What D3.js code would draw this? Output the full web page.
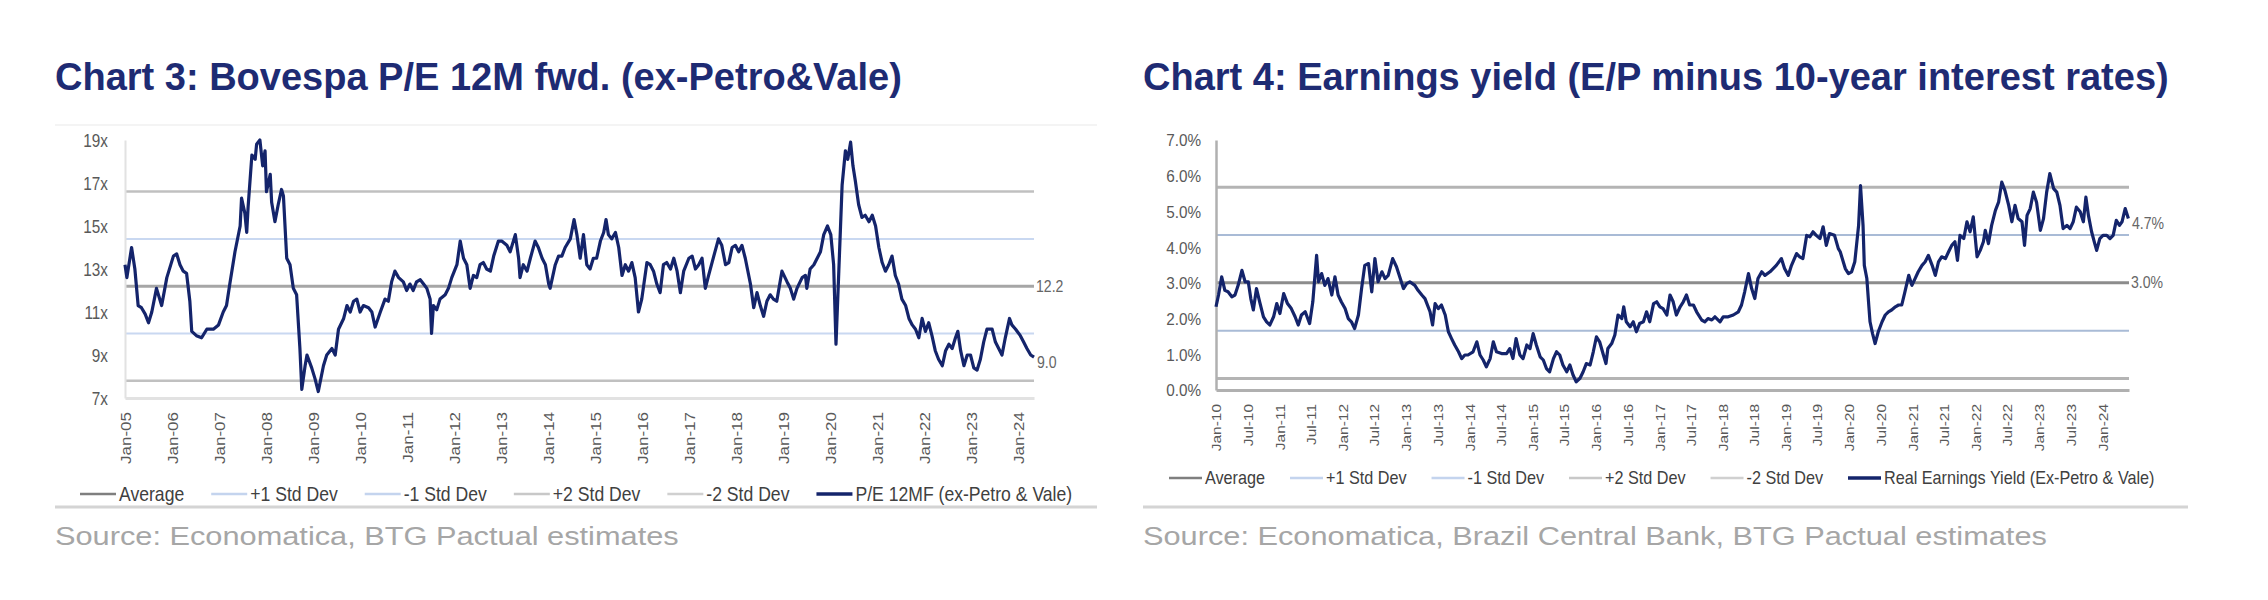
<!DOCTYPE html>
<html>
<head>
<meta charset="utf-8">
<script src="https://cdn.jsdelivr.net/npm/d3@7"></script>
<style>
  html, body { margin: 0; padding: 0; background: #fff; }
  svg { display: block; font-family: "Liberation Sans", Arial, sans-serif; }
</style>
</head>
<body>
<svg id="page" width="2268" height="600"></svg>
<script>
// ---------- data ----------
// Chart 3: Bovespa P/E 12M fwd (decimal year, multiple)
const peSeries = [
  [2005.00,13.2],[2005.04,12.6],[2005.14,14.0],[2005.21,13.0],[2005.28,11.3],[2005.35,11.2],[2005.43,10.9],[2005.50,10.5],[2005.57,11.0],[2005.67,12.1],
  [2005.78,11.3],[2005.89,12.6],[2006.03,13.6],[2006.10,13.7],[2006.17,13.2],[2006.24,12.9],[2006.31,12.8],[2006.38,11.5],[2006.42,10.1],[2006.52,9.9],
  [2006.63,9.8],[2006.74,10.2],[2006.88,10.2],[2006.99,10.4],[2007.09,11.0],[2007.16,11.3],[2007.23,12.3],[2007.34,13.8],[2007.45,15.0],[2007.48,16.3],
  [2007.55,15.6],[2007.59,14.7],[2007.62,15.9],[2007.70,18.3],[2007.77,18.1],[2007.80,18.8],[2007.87,19.0],[2007.93,17.8],[2007.98,18.5],[2008.01,16.6],
  [2008.09,17.4],[2008.12,16.1],[2008.19,15.2],[2008.26,16.0],[2008.33,16.7],[2008.37,16.4],[2008.44,13.5],[2008.51,13.2],[2008.58,12.1],[2008.65,11.8],
  [2008.72,9.3],[2008.76,7.4],[2008.83,8.5],[2008.87,9.0],[2008.97,8.4],[2009.04,7.9],[2009.11,7.3],[2009.22,8.5],[2009.29,9.0],[2009.40,9.3],
  [2009.47,9.0],[2009.54,10.2],[2009.65,10.7],[2009.72,11.3],[2009.79,11.0],[2009.86,11.5],[2009.93,11.6],[2010.00,11.0],[2010.07,11.3],[2010.18,11.2],
  [2010.25,11.0],[2010.32,10.3],[2010.43,11.0],[2010.53,11.6],[2010.60,11.5],[2010.67,12.4],[2010.74,12.9],[2010.82,12.6],[2010.92,12.4],[2010.99,12.0],
  [2011.06,12.3],[2011.13,12.0],[2011.20,12.4],[2011.28,12.5],[2011.35,12.3],[2011.42,12.1],[2011.49,11.6],[2011.52,10.0],[2011.56,11.3],[2011.63,11.1],
  [2011.70,11.6],[2011.81,11.8],[2011.88,12.1],[2011.95,12.6],[2012.06,13.2],[2012.13,14.3],[2012.20,13.5],[2012.27,13.2],[2012.34,12.1],[2012.41,12.7],
  [2012.48,12.6],[2012.55,13.2],[2012.62,13.3],[2012.69,13.0],[2012.77,12.9],[2012.84,13.6],[2012.94,14.3],[2013.01,14.3],[2013.12,14.1],[2013.19,13.8],
  [2013.30,14.6],[2013.37,13.5],[2013.40,12.6],[2013.47,13.2],[2013.55,12.9],[2013.62,13.5],[2013.72,14.3],[2013.79,14.0],[2013.87,13.5],[2013.94,13.2],
  [2014.01,12.3],[2014.04,12.1],[2014.15,13.2],[2014.22,13.6],[2014.29,13.6],[2014.36,14.0],[2014.47,14.4],[2014.55,15.3],[2014.61,14.6],[2014.68,13.5],
  [2014.75,14.6],[2014.82,13.2],[2014.89,13.0],[2014.96,13.5],[2015.03,13.5],[2015.11,14.3],[2015.18,14.7],[2015.23,15.3],[2015.28,14.6],[2015.35,14.4],
  [2015.43,14.7],[2015.50,14.0],[2015.57,12.7],[2015.64,13.2],[2015.71,12.9],[2015.78,13.3],[2015.85,12.6],[2015.92,11.0],[2015.99,11.6],[2016.10,13.3],
  [2016.17,13.2],[2016.24,12.9],[2016.31,12.3],[2016.38,11.9],[2016.45,13.2],[2016.52,13.3],[2016.60,13.0],[2016.67,13.5],[2016.74,12.9],[2016.81,11.9],
  [2016.88,12.9],[2016.99,13.5],[2017.06,13.6],[2017.13,13.0],[2017.20,13.2],[2017.27,13.5],[2017.34,12.1],[2017.41,12.7],[2017.52,13.6],[2017.62,14.4],
  [2017.69,14.1],[2017.77,13.2],[2017.84,13.3],[2017.91,14.0],[2017.98,14.1],[2018.05,13.8],[2018.12,14.1],[2018.19,13.5],[2018.30,12.3],[2018.37,11.2],
  [2018.44,11.9],[2018.51,11.3],[2018.58,10.8],[2018.65,11.5],[2018.72,11.8],[2018.79,11.6],[2018.86,11.5],[2018.97,12.9],[2019.08,12.4],[2019.15,12.1],
  [2019.22,11.6],[2019.29,12.1],[2019.40,12.6],[2019.47,12.7],[2019.50,12.1],[2019.57,13.0],[2019.65,13.2],[2019.72,13.5],[2019.79,13.8],[2019.86,14.6],
  [2019.94,15.0],[2020.01,14.6],[2020.07,13.2],[2020.12,9.5],[2020.18,12.9],[2020.25,16.9],[2020.32,18.5],[2020.37,18.1],[2020.43,18.9],[2020.48,17.8],
  [2020.53,17.1],[2020.60,16.0],[2020.67,15.4],[2020.74,15.5],[2020.82,15.2],[2020.89,15.5],[2020.96,15.0],[2021.03,14.0],[2021.10,13.3],[2021.17,12.9],
  [2021.24,13.2],[2021.31,13.6],[2021.38,12.7],[2021.45,12.3],[2021.52,11.6],[2021.60,11.3],[2021.67,10.7],[2021.74,10.4],[2021.81,10.2],[2021.88,9.8],
  [2021.95,10.7],[2022.02,10.1],[2022.09,10.5],[2022.16,9.9],[2022.23,9.2],[2022.30,8.8],[2022.38,8.5],[2022.45,9.2],[2022.52,9.5],[2022.59,9.3],
  [2022.66,9.8],[2022.71,10.1],[2022.77,9.2],[2022.84,8.5],[2022.91,9.0],[2022.98,9.0],[2023.05,8.4],[2023.12,8.3],[2023.19,8.8],[2023.26,9.6],
  [2023.33,10.2],[2023.44,10.2],[2023.51,9.6],[2023.58,9.3],[2023.65,9.0],[2023.72,9.8],[2023.81,10.7],[2023.86,10.4],[2023.94,10.2],[2024.04,9.9],
  [2024.11,9.6],[2024.18,9.3],[2024.26,9.0],[2024.33,8.9]
];
const peAverage = 12.2;
const peBands = [16.6, 14.4, 10.0, 7.8];       // +2, +1, -1, -2 std dev
const peLatest = 9.0;
const peTicks = [7, 9, 11, 13, 15, 17, 19];
const peSpan = [2005.0, 2024.33];

// Chart 4: real earnings yield (decimal year, %)
const eySeries = [
  [2010.00,2.33],[2010.04,2.66],[2010.09,3.17],[2010.14,2.79],[2010.19,2.75],[2010.25,2.61],[2010.30,2.66],[2010.35,2.93],[2010.41,3.35],[2010.46,3.03],
  [2010.51,3.03],[2010.55,2.56],[2010.59,2.24],[2010.64,2.84],[2010.69,2.47],[2010.75,2.05],[2010.80,1.91],[2010.85,1.82],[2010.91,2.05],[2010.96,2.42],
  [2011.01,2.14],[2011.07,2.70],[2011.13,2.42],[2011.19,2.28],[2011.25,2.05],[2011.30,1.82],[2011.35,2.10],[2011.41,2.19],[2011.48,1.86],[2011.53,2.47],
  [2011.59,3.77],[2011.62,3.03],[2011.67,3.26],[2011.72,2.93],[2011.77,3.12],[2011.83,2.66],[2011.88,3.17],[2011.93,2.66],[2011.98,2.47],[2012.04,2.28],
  [2012.09,2.00],[2012.14,1.91],[2012.19,1.72],[2012.25,2.10],[2012.30,2.84],[2012.35,3.49],[2012.41,3.54],[2012.46,2.75],[2012.51,3.68],[2012.56,3.03],
  [2012.62,3.31],[2012.67,3.12],[2012.72,3.21],[2012.79,3.68],[2012.85,3.45],[2012.91,3.12],[2012.96,2.84],[2013.01,2.98],[2013.06,3.03],[2013.14,2.93],
  [2013.19,2.79],[2013.25,2.66],[2013.30,2.56],[2013.38,2.19],[2013.42,1.82],[2013.46,2.42],[2013.51,2.28],[2013.56,2.38],[2013.62,2.10],[2013.67,1.63],
  [2013.72,1.44],[2013.77,1.26],[2013.83,1.07],[2013.88,0.88],[2013.93,0.98],[2013.98,0.98],[2014.06,1.07],[2014.12,1.35],[2014.17,0.98],[2014.22,0.84],
  [2014.27,0.65],[2014.33,0.88],[2014.38,1.35],[2014.43,1.07],[2014.51,1.02],[2014.59,1.02],[2014.64,1.16],[2014.69,0.88],[2014.74,1.44],[2014.80,0.98],
  [2014.85,0.88],[2014.91,1.26],[2014.96,1.16],[2015.01,1.58],[2015.06,1.26],[2015.12,0.93],[2015.17,0.84],[2015.22,0.60],[2015.27,0.51],[2015.33,0.88],
  [2015.38,1.07],[2015.43,0.98],[2015.48,0.70],[2015.54,0.51],[2015.59,0.70],[2015.64,0.42],[2015.69,0.23],[2015.75,0.33],[2015.80,0.51],[2015.85,0.74],
  [2015.91,0.70],[2015.96,1.07],[2016.01,1.49],[2016.06,1.35],[2016.12,0.98],[2016.16,0.74],[2016.19,1.16],[2016.25,1.30],[2016.30,1.54],[2016.35,2.10],
  [2016.41,2.00],[2016.44,2.33],[2016.48,1.91],[2016.54,1.77],[2016.59,1.91],[2016.64,1.63],[2016.69,1.86],[2016.75,1.91],[2016.80,2.19],[2016.85,1.91],
  [2016.91,2.42],[2016.96,2.47],[2017.01,2.33],[2017.06,2.28],[2017.12,2.10],[2017.17,2.66],[2017.22,2.47],[2017.27,2.10],[2017.33,2.33],[2017.38,2.47],
  [2017.43,2.66],[2017.48,2.38],[2017.54,2.38],[2017.59,2.19],[2017.67,1.96],[2017.72,1.91],[2017.77,2.00],[2017.83,1.96],[2017.88,2.05],[2017.96,1.91],
  [2018.01,2.05],[2018.09,2.05],[2018.17,2.10],[2018.25,2.19],[2018.30,2.38],[2018.35,2.75],[2018.41,3.26],[2018.46,2.84],[2018.51,2.56],[2018.56,3.12],
  [2018.62,3.31],[2018.67,3.21],[2018.75,3.31],[2018.80,3.40],[2018.85,3.49],[2018.93,3.68],[2018.98,3.40],[2019.04,3.21],[2019.09,3.49],[2019.17,3.82],
  [2019.22,3.73],[2019.27,3.68],[2019.33,4.33],[2019.38,4.29],[2019.43,4.43],[2019.48,4.33],[2019.54,4.24],[2019.59,4.57],[2019.64,4.05],[2019.69,4.38],
  [2019.77,4.33],[2019.83,3.96],[2019.86,3.87],[2019.94,3.40],[2019.99,3.26],[2020.04,3.31],[2020.09,3.59],[2020.15,4.61],[2020.18,5.72],[2020.22,4.61],
  [2020.24,3.49],[2020.28,3.12],[2020.31,2.38],[2020.33,1.91],[2020.37,1.58],[2020.41,1.30],[2020.46,1.63],[2020.52,1.91],[2020.57,2.10],[2020.62,2.19],
  [2020.67,2.24],[2020.73,2.33],[2020.78,2.38],[2020.83,2.38],[2020.88,2.75],[2020.94,3.21],[2020.99,2.93],[2021.04,3.12],[2021.09,3.31],[2021.15,3.49],
  [2021.20,3.59],[2021.25,3.77],[2021.31,3.49],[2021.36,3.21],[2021.41,3.59],[2021.46,3.73],[2021.52,3.68],[2021.57,3.87],[2021.62,4.05],[2021.67,4.15],
  [2021.71,3.63],[2021.75,4.33],[2021.81,4.24],[2021.86,4.71],[2021.91,4.43],[2021.96,4.85],[2022.02,3.73],[2022.07,3.91],[2022.12,4.15],[2022.15,4.47],
  [2022.20,4.10],[2022.25,4.61],[2022.31,5.03],[2022.36,5.26],[2022.41,5.82],[2022.46,5.59],[2022.52,5.17],[2022.57,4.71],[2022.62,5.17],[2022.67,4.80],
  [2022.73,4.71],[2022.77,4.05],[2022.81,4.89],[2022.86,5.08],[2022.91,5.54],[2022.96,5.26],[2023.02,4.47],[2023.07,4.80],[2023.12,5.54],[2023.17,6.06],
  [2023.23,5.64],[2023.28,5.54],[2023.33,5.17],[2023.38,4.52],[2023.44,4.61],[2023.49,4.52],[2023.54,4.71],[2023.59,5.12],[2023.65,4.99],[2023.70,4.71],
  [2023.74,5.40],[2023.78,4.89],[2023.83,4.43],[2023.88,4.10],[2023.91,3.91],[2023.96,4.24],[2024.01,4.33],[2024.07,4.33],[2024.12,4.24],[2024.17,4.33],
  [2024.22,4.75],[2024.27,4.61],[2024.31,4.71],[2024.36,5.08],[2024.41,4.80]
];
const eyAverage = 3.0;
const eyBands = [5.68, 4.34, 1.66, 0.32];      // +2, +1, -1, -2 std dev
const eyLatest = 4.7;
const eyTicks = [0, 1, 2, 3, 4, 5, 6, 7];
const eySpan = [2010.0, 2024.42];

const legend3 = ['Average', '+1 Std Dev', '-1 Std Dev', '+2 Std Dev', '-2 Std Dev', 'P/E 12MF (ex-Petro & Vale)'];
const legend4 = ['Average', '+1 Std Dev', '-1 Std Dev', '+2 Std Dev', '-2 Std Dev', 'Real Earnings Yield (Ex-Petro & Vale)'];

// ---------- helpers ----------
const NAVY = '#14246b';
const svg = d3.select('#page');
svg.append('rect').attr('width', 2268).attr('height', 600).attr('fill', '#fff');

function yearToDate(y) {
  const yr = Math.floor(y);
  const a = new Date(yr, 0, 1).getTime(), b = new Date(yr + 1, 0, 1).getTime();
  return new Date(a + (y - yr) * (b - a));
}

// text with a horizontal squeeze (the chart text in the picture is narrow)
function label(g, x, y, str, size, sx) {
  return g.append('text')
    .attr('transform', `translate(${x},${y}) scale(${sx},1)`)
    .attr('font-size', size)
    .text(str);
}

function drawChart(cfg) {
  const g = svg.append('g');

  g.append('text')
    .attr('x', cfg.left).attr('y', 90)
    .attr('font-size', 38).attr('font-weight', 'bold')
    .attr('fill', '#1e2b73')
    .text(cfg.title);

  if (cfg.frameTop) {
    g.append('line').attr('x1', cfg.left).attr('x2', cfg.right)
      .attr('y1', 125).attr('y2', 125).attr('stroke', '#f0f0f0').attr('stroke-width', 1.5);
  }

  const x = d3.scaleTime().domain(cfg.span.map(yearToDate)).range(cfg.xRange);
  const y = d3.scaleLinear().domain(cfg.yDomain).range(cfg.yRange);

  // reference lines: average and std dev bands
  const refs = [
    { v: cfg.bands[0], c: cfg.c2, w: cfg.w2 },
    { v: cfg.bands[1], c: cfg.c1, w: cfg.w1 },
    { v: cfg.bands[2], c: cfg.c1, w: cfg.w1 },
    { v: cfg.bands[3], c: cfg.c2, w: cfg.w2 },
    { v: cfg.avg, c: cfg.cAvg, w: cfg.wAvg }
  ];
  g.append('g').selectAll('line').data(refs).join('line')
    .attr('x1', x.range()[0]).attr('x2', x.range()[1])
    .attr('y1', d => y(d.v)).attr('y2', d => y(d.v))
    .attr('stroke', d => d.c).attr('stroke-width', d => d.w);

  // y axis
  const ya = g.append('g')
    .attr('transform', `translate(${x.range()[0]},0)`)
    .call(d3.axisLeft(y).tickValues(cfg.yTicks).tickFormat(cfg.yFormat).tickSize(0).tickSizeOuter(0));
  ya.attr('font-size', null).attr('font-family', null);
  ya.select('.domain').attr('stroke', cfg.axisColor).attr('stroke-width', cfg.axisW);
  ya.selectAll('text')
    .attr('x', -cfg.yPad / cfg.ySx).attr('dy', '0.35em')
    .attr('transform', `scale(${cfg.ySx},1)`)
    .attr('font-size', cfg.yFont).attr('fill', '#595959');

  // x axis
  const xa = g.append('g')
    .attr('transform', `translate(0,${y.range()[0]})`)
    .call(d3.axisBottom(x).tickValues(cfg.xTicks).tickFormat(d3.timeFormat('%b-%y')).tickSize(0).tickSizeOuter(0));
  xa.attr('font-size', null).attr('font-family', null);
  xa.select('.domain').attr('stroke', cfg.bottomColor).attr('stroke-width', 3);
  xa.selectAll('text')
    .attr('text-anchor', 'end')
    .attr('x', -cfg.xPad).attr('y', 0).attr('dy', '0.35em')
    .attr('transform', 'rotate(-90) scale(1,0.88)')
    .attr('font-size', cfg.xFont).attr('fill', '#595959');

  // series
  const line = d3.line().x(d => x(yearToDate(d[0]))).y(d => y(d[1]));
  g.append('path').datum(cfg.series)
    .attr('d', line).attr('fill', 'none')
    .attr('stroke', NAVY).attr('stroke-width', 3.2)
    .attr('stroke-linejoin', 'round');

  // end labels
  const last = cfg.series[cfg.series.length - 1];
  const xEnd = x.range()[1] + 2;
  label(g, xEnd, y(cfg.avg), cfg.avgText, 16, 0.88).attr('dy', '0.35em').attr('fill', '#666');
  label(g, xEnd + 1, y(last[1]) + 5, cfg.lastText, 16, 0.88).attr('dy', '0.35em').attr('fill', '#666');

  // legend
  const lg = g.append('g');
  const swatches = [
    { c: '#7f7f7f', w: 2.5 }, { c: '#c4d4ee', w: 2.5 }, { c: '#c4d4ee', w: 2.5 },
    { c: '#c8c8c8', w: 2.5 }, { c: '#d0d0d0', w: 2.5 }, { c: NAVY, w: 3.5 }
  ];
  let lx = cfg.legendX;
  cfg.legend.forEach((name, i) => {
    lg.append('line').attr('x1', lx).attr('x2', lx + cfg.sw)
      .attr('y1', cfg.legendY).attr('y2', cfg.legendY)
      .attr('stroke', swatches[i].c).attr('stroke-width', swatches[i].w);
    const t = label(lg, lx + cfg.sw + 3, cfg.legendY, name, cfg.legendFont, cfg.legendSx)
      .attr('dy', '0.35em').attr('fill', '#404040');
    lx += cfg.sw + 3 + t.node().getComputedTextLength() * cfg.legendSx + cfg.legendGap;
  });

  // separator and source
  g.append('line').attr('x1', cfg.left).attr('x2', cfg.right)
    .attr('y1', 507).attr('y2', 507).attr('stroke', '#d4d4d4').attr('stroke-width', 3);
  label(g, cfg.left, 545, cfg.source, 25, 1.23).attr('fill', '#a6a6a6');
}

drawChart({
  title: 'Chart 3: Bovespa P/E 12M fwd. (ex-Petro&Vale)',
  left: 55, right: 1097, frameTop: true,
  span: peSpan, xRange: [125, 1034],
  yDomain: [7, 19], yRange: [398, 140],
  series: peSeries, avg: peAverage, bands: peBands,
  avgText: peAverage.toFixed(1), lastText: peLatest.toFixed(1),
  cAvg: '#a6a6a6', wAvg: 3, c1: '#c9d8f1', w1: 2, c2: '#c0c0c0', w2: 2.5,
  axisColor: '#e2e2e2', axisW: 2, bottomColor: '#e2e2e2',
  yTicks: peTicks, yFormat: d => d + 'x', yPad: 17, ySx: 0.85, yFont: 18,
  xTicks: d3.timeYear.range(new Date(2005, 0, 1), new Date(2024, 1, 1)), xPad: 14, xFont: 17,
  legend: legend3, legendX: 80, legendY: 494, sw: 36, legendFont: 20, legendSx: 0.88, legendGap: 27,
  source: 'Source: Economatica, BTG Pactual estimates'
});

drawChart({
  title: 'Chart 4: Earnings yield (E/P minus 10-year interest rates)',
  left: 1143, right: 2188, frameTop: false,
  span: eySpan, xRange: [1216, 2129],
  yDomain: [0, 7], yRange: [390, 140],
  series: eySeries, avg: eyAverage, bands: eyBands,
  avgText: eyAverage.toFixed(1) + '%', lastText: eyLatest.toFixed(1) + '%',
  cAvg: '#8c8c8c', wAvg: 3, c1: '#a9bbd6', w1: 2, c2: '#b4b4b4', w2: 3,
  axisColor: '#b0b0b0', axisW: 2.5, bottomColor: '#b0b0b0',
  yTicks: eyTicks, yFormat: d => d.toFixed(1) + '%', yPad: 15, ySx: 0.9, yFont: 17,
  xTicks: d3.timeMonth.range(new Date(2010, 0, 1), new Date(2024, 1, 1), 6), xPad: 14, xFont: 15.5,
  legend: legend4, legendX: 1169, legendY: 478, sw: 33, legendFont: 18, legendSx: 0.9, legendGap: 25,
  source: 'Source: Economatica, Brazil Central Bank, BTG Pactual estimates'
});
</script>
</body>
</html>
